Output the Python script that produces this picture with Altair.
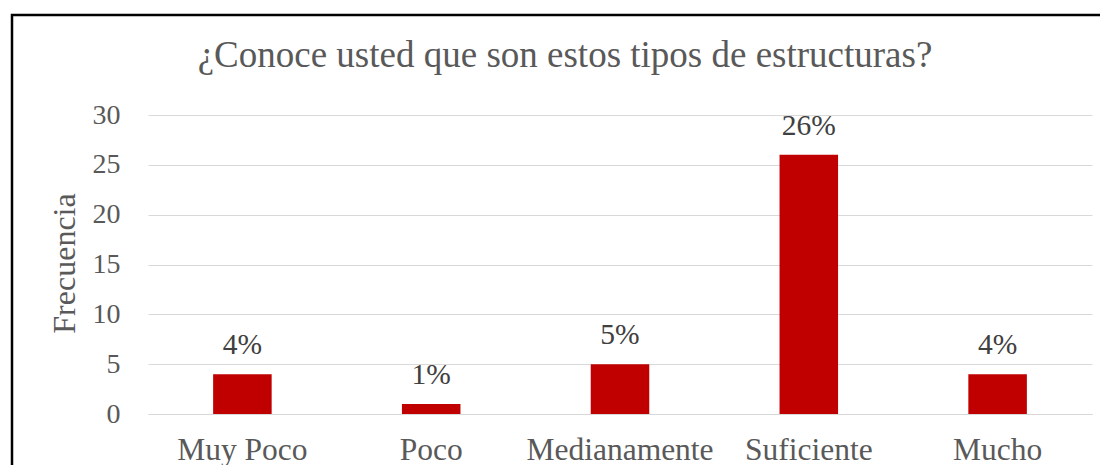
import altair as alt
import pandas as pd

categories = ["Muy Poco", "Poco", "Medianamente", "Suficiente", "Mucho"]
frecuencia = [4, 1, 5, 26, 4]
etiquetas = ["4%", "1%", "5%", "26%", "4%"]
titulo = ["¿Conoce usted que son estos tipos de estructuras?"]

df = pd.DataFrame({"cat": categories, "val": frecuencia, "lab": etiquetas})
tdf = pd.DataFrame({"t": titulo})

FONT = "Liberation Serif"
GRAY = "#595959"

x = alt.X("cat:N", sort=categories, title=None,
          scale=alt.Scale(paddingInner=0.69, paddingOuter=0.345),
          axis=alt.Axis(labelAngle=0, labelFontSize=31.5, labelColor=GRAY, labelFont=FONT,
                        labelPadding=20, labelLimit=400, ticks=False, domainColor="#d9d9d9",
                        domainWidth=1, grid=False))
y = alt.Y("val:Q", title="Frecuencia",
          scale=alt.Scale(domain=[0, 30], nice=False),
          axis=alt.Axis(values=[0, 5, 10, 15, 20, 25, 30], labelFontSize=28, labelColor=GRAY,
                        labelFont=FONT, labelPadding=28, ticks=False, domain=False,
                        gridColor="#d9d9d9", gridWidth=1,
                        titleFont=FONT, titleFontSize=32, titleColor=GRAY, titleFontWeight="normal",
                        titleX=-84, titleY=148, titleBaseline="middle"))

bars = alt.Chart(df).mark_bar(color="#c00000").encode(x=x, y=y)

text = alt.Chart(df).mark_text(font=FONT, fontSize=29.5, color="#404040", baseline="alphabetic", dy=-20).encode(
    x=alt.X("cat:N", sort=categories), y="val:Q", text="lab:N")

title = alt.Chart(tdf).mark_text(font=FONT, fontSize=37, color=GRAY, baseline="alphabetic", align="center").encode(
    x=alt.value(417), y=alt.value(-48), text="t:N")

border = alt.Chart(tdf).mark_rect(fill=None, stroke="black", strokeWidth=2.5).encode(
    x=alt.value(-136), x2=alt.value(960), y=alt.value(-100), y2=alt.value(420))

chart = alt.layer(bars, text, title, border).properties(
    width=944, height=299,
    autosize=alt.AutoSizeParams(type="none"),
    padding={"left": 140, "top": 107, "right": 8, "bottom": 51},
).configure_view(stroke=None)

chart.save("out.html", embed_options={"renderer": "svg", "actions": False})
